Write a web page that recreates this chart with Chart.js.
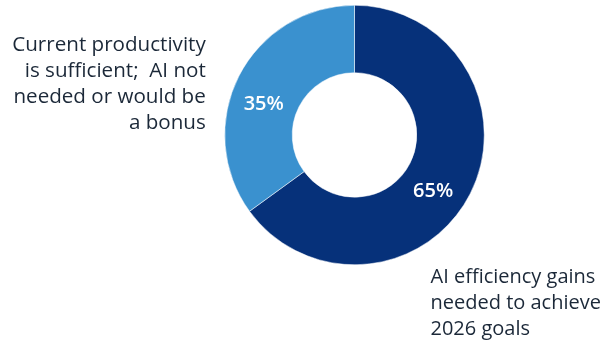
<!DOCTYPE html>
<html>
<head>
<meta charset="utf-8">
<script src="https://cdn.jsdelivr.net/npm/chart.js@4"></script>
<style>
  html, body { margin: 0; padding: 0; background: #ffffff; }
  #wrap { width: 605px; height: 343px; position: relative; }
</style>
</head>
<body>
<div id="wrap"><canvas id="donut"></canvas></div>
<script>
// datos del gráfico
var categorias = ["AI efficiency gains needed to achieve 2026 goals", "Current productivity is sufficient;  AI not needed or would be a bonus"];
var valores = [65, 35];
var colores = ["#06317A", "#3A91CF"];
// texto de las etiquetas, línea por línea
var etiquetaDerecha = ["AI efficiency gains", "needed to achieve", "2026 goals"];
var etiquetaIzquierda = ["Current productivity", "is sufficient;  AI not", "needed or would be", "a bonus"];

// plugin para porcentajes y etiquetas de texto
var etiquetasPlugin = {
  id: "etiquetas",
  afterDatasetsDraw: function (chart) {
    var ctx = chart.ctx;
    var meta = chart.getDatasetMeta(0);
    var total = valores.reduce(function (a, b) { return a + b; }, 0);
    ctx.save();
    ctx.fillStyle = "#ffffff";
    ctx.font = "600 20px 'Open Sans'";
    ctx.textAlign = "center";
    ctx.textBaseline = "middle";
    var desvio = [0.14, -0.14]; // pequeño giro del texto dentro del arco
    meta.data.forEach(function (arc, i) {
      var p = arc.getProps(["x", "y", "startAngle", "endAngle", "innerRadius", "outerRadius"], true);
      var ang = (p.startAngle + p.endAngle) / 2 + desvio[i];
      var r = (p.innerRadius + p.outerRadius) / 2;
      var pct = Math.round(valores[i] / total * 100) + "%";
      ctx.fillText(pct, p.x + Math.cos(ang) * r, p.y + Math.sin(ang) * r + 1);
    });

    var a0 = meta.data[0].getProps(["x", "y", "outerRadius"], true);
    ctx.fillStyle = "#1B2838";
    ctx.font = "20.6px 'Open Sans'";
    ctx.textBaseline = "middle";
    // etiqueta izquierda (alineada a la derecha)
    ctx.textAlign = "right";
    etiquetaIzquierda.forEach(function (linea, k) {
      ctx.fillText(linea, a0.x - a0.outerRadius - 19, 45 + k * 26);
    });
    // etiqueta derecha (abajo)
    ctx.textAlign = "left";
    ctx.font = "20px 'Open Sans'";
    etiquetaDerecha.forEach(function (linea, k) {
      ctx.fillText(linea, a0.x + 76, 277 + k * 26);
    });
    ctx.restore();
  }
};

new Chart(document.getElementById("donut"), {
  type: "doughnut",
  data: {
    labels: categorias,
    datasets: [{
      data: valores,
      backgroundColor: colores,
      borderColor: "#ffffff",
      borderWidth: 0.5
    }]
  },
  options: {
    responsive: true,
    maintainAspectRatio: false,
    animation: false,
    cutout: "48%",
    layout: { padding: { left: 224, top: 5, right: 120, bottom: 78 } },
    plugins: {
      legend: { display: false },
      tooltip: { enabled: false }
    }
  },
  plugins: [etiquetasPlugin]
});
</script>
</body>
</html>
